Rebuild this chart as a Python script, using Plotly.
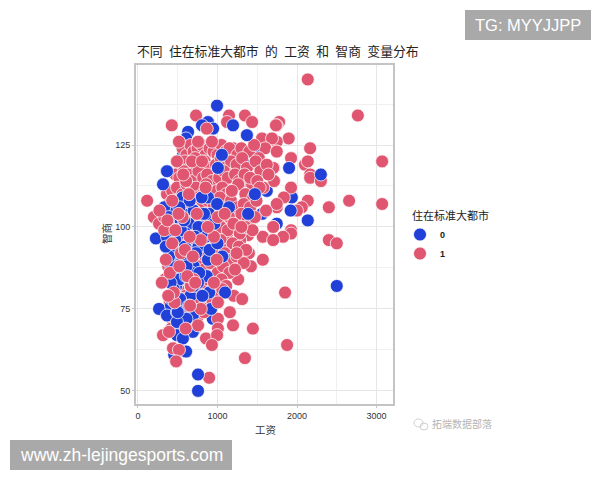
import plotly.graph_objects as go

# 工资 / 智商 values
wage_0_under = [1935,1620,1560,1745,1120,1145,1385,1495,1360,1130,865,1005,805,630,605,565,365,580,640,455,1280,1230,1040,720,1010,1470,1290,960,700,580,760,1090,840,940,1190,610,820]
iq_0_under = [109,111,104,101,96,106,104,123.5,119,116,118,118,115,129,127,122,117,116,101,95,103,121,92,119,110,108,93,84,109,92,88,113,79,72,88,111,123]

wage_1 = [2135,2765,3070,3070,2655,2400,2165,1925,1895,2100,2135,2165,2165,2300,1925,2135,2060,2000,1835,1745,1700,1925,1925,1825,2400,2500,1775,1745,1685,1745,1745,1710,1710,1850,1875,
          730,425,115,200,265,325,1145,1120,1345,1435,1735,865,515,755,930,1030,1195,1560,1685,1600,1745,490,680,805,1195,1495,1700,1710,605,365,505,715,930,1105,1320,1435,1575,740,1005,1195,1420,1700,1570,1385,1285,1120,965,1745,
          790,955,1285,1395,1570,1700,1570,1420,1220,1070,300,665,955,1260,1205,1310,1005,790,1155,1005,1195,755,1005,1445,855,995,930,315,390,440,515,480,1345,895,440,655,
          560,610,660,700,750,800,850,900,950,1000,1050,1100,1150,1250,1300,1400,1460,1520,
          540,590,650,720,770,840,890,980,1040,1090,1170,1240,1310,1370,1480,1540,1620,
          470,520,580,630,690,760,820,870,930,1020,1080,1130,1220,1270,1340,1410,1500,1640,
          430,490,560,610,680,730,810,860,920,990,1060,1110,1180,1260,1350,1450,1530,
          390,450,540,600,670,740,800,880,950,1030,1100,1170,1250,1330,1410,1490,1610,
          330,420,500,570,640,710,780,850,920,1010,1070,1150,1240,1300,1380,1470,
          380,460,530,600,680,750,830,900,980,1040,1130,1200,1280,1350,1440,
          350,430,510,590,660,720,810,880,960,1040,1120,1190,1270,1360,
          400,480,560,620,700,770,840,930,1000,1090,1160,1240,1330,
          380,450,530,610,680,760,830,910,1000,1070,1150,1220,
          340,420,490,590,650,720,800,880,960,1050,1110,
          430,510,600,680,740,820,900,980,1060,
          400,470,560,640,700,790,860,940,
          360,440,520,620,680,760,830,
          420,500,580,660,720]
iq_1 = [145,134,120,107,108,106,124,121,127,119,120,116,115,114,112,108,106,105,109,106,100,99,98,97,96,95,132,131,127,126,123,118,114,80,64,
        134,131,108,103,101,104,134,132,134,132,131,130,126,126,126,125,124,127,127,124,123,120,120,120,117,119,118,114,114,110,110,113,113,112,114,113,112,104,103,102,102,100,97,97.5,98.5,98,97.5,107,
        96,97,96,92,97,96,90,88,92,91,83,82,83,84,79,78,77,75,74,72,70,70,69,69,66,67,64,67,68,63,62.5,59,60,54,71,76,
        124,122,125,123,124,125,122,124,123,122,125,123,124,122,124,123,125,121,
        119,120,118,121,119,120,118,119,121,118,120,119,121,118,120,117,119,
        116,115,117,116,114,117,115,116,114,115,117,115,116,114,116,115,114,116,
        111,112,110,113,111,112,110,113,110,111,112,110,111,113,110,109,112,
        107,108,106,108,107,109,106,108,107,109,106,108,106,107,106,108,105,
        103,104,102,104,103,105,102,104,103,102,105,103,101,104,102,103,
        100,99,101,100,98,100,99,101,98,100,99,101,98,100,99,
        96,95,97,96,94,96,95,97,94,96,93,95,94,93,
        92,91,93,92,90,92,91,93,90,92,90,91,89,
        88,87,89,88,86,88,87,89,86,88,86,87,
        84,83,85,84,82,85,83,84,82,84,82,
        80,81,79,81,80,78,80,79,81,
        77,76,78,76,77,78,75,77,
        73,74,72,74,72,73,74,
        69,70,68,71,69]

wage_0_top = [994,880,805,945,1195,1370,1055,1005,365,315,1470,880,995,500,380,565,895,640,480,790,225,365,455,
              630,490,880,640,515,415,865,755,480,895,1095,540,265,415,365,490,690,920,540,690,490,565,605,455,755,755,
              2500,2300,1900,1920,2135,1385,1145,
              560,480,600,700,760,850,620,440,520,380,700,830,660,540,600,470,420,760,900,330,530,700,640,590,450,800,960,610,560,720,680,390,490,420,1000,1060,
              350,410,580,650,770,520,440,610,730,500,390,810]
iq_0_top = [137,132,131,130,131,128,122,118,117,113,110,109,107,107,106,104,104,101,100,100,96.5,97,95,
            93,89,90,87,86,86,85,83,82,80,80,77,75,76,73,74,73,75,70,68,67,66,62,61,55,50,
            82,116,118,105,102,104,106,
            109,103,98,105,94,97,91,92,84,101,88,104,79,99,85,96,88,100,93,106,78,82,76,94,81,109,101,72,90,97,86,91,71,78,95,91,
            94,83,102,108,86,106,99,88,92,74,103,79]

wage_1_top = [300,315,390,665,955,790,755,605,515,755,930,680,805,490,865,740,1005,790,955,440,515,480,655,1005,640,570,850,700,430,540,990,460,600,880,1090,1180,1240,1300,
              270,330,350,400,370,430,520,470,590,560,650,450,510,620,690,380,720]
iq_1_top = [83,67,68,82,83,75,70,114,126,126,126,120,120,120,130,104,103,96,97,63,62.5,59,76,77,110,116,112,84,108,92,90,77,69,100,104,111,92,100,
            105,99,90,86,102,95,88,99,93,103,97,80,104,85,91,79,83]

tick_x = [0,1000,2000,3000]
tick_y = [50,75,100,125]
title_text = "不同\u2002住在标准大都市\u2002的\u2002工资\u2002和\u2002智商\u2002变量分布"
blue, red = "#2040D8", "#E05670"
W, H = 600, 480
CJK = "Noto Sans CJK SC"
def px(x): return x / W
def py(y): return 1 - y / H
edge = dict(color="rgba(255,255,255,0.75)", width=1)

fig = go.Figure()
fig.add_trace(go.Scatter(x=wage_0_under, y=iq_0_under, mode="markers", showlegend=False, legendgroup="0",
                         marker=dict(color=blue, size=13, line=edge), hoverinfo="skip"))
fig.add_trace(go.Scatter(x=wage_1, y=iq_1, mode="markers", name="1", legendgroup="1",
                         marker=dict(color=red, size=13, line=edge)))
fig.add_trace(go.Scatter(x=wage_0_top, y=iq_0_top, mode="markers", name="0", legendgroup="0",
                         marker=dict(color=blue, size=13, line=edge)))
fig.add_trace(go.Scatter(x=wage_1_top, y=iq_1_top, mode="markers", showlegend=False, legendgroup="1",
                         marker=dict(color=red, size=13, line=edge), hoverinfo="skip"))

axis = dict(showgrid=True, gridcolor="#E6E6E6", gridwidth=1, zeroline=False,
            showline=True, linecolor="#C4C4C4", linewidth=2, mirror=True,
            ticks="outside", ticklen=2, tickcolor="#C4C4C4",
            tickfont=dict(family="Liberation Sans", size=9, color="#333333"))
minor = dict(showgrid=True, gridcolor="#F0F0F0", gridwidth=1, ticks="")
fig.update_layout(
    width=W, height=H, autosize=False, margin=dict(l=0, r=0, t=0, b=0),
    paper_bgcolor="white", plot_bgcolor="white", showlegend=True,
    xaxis=dict(axis, domain=[px(136), px(393)], range=[-25, 3207], tickvals=tick_x,
               minor=dict(minor, dtick=500, tick0=0)),
    yaxis=dict(axis, domain=[py(404), py(65)], range=[46, 149.4], tickvals=tick_y,
               minor=dict(minor, dtick=12.5, tick0=50)),
    legend=dict(x=px(400), y=py(220), xanchor="left", yanchor="top", traceorder="reversed",
                font=dict(family="Liberation Sans", size=9, color="#222222", weight="bold"), itemsizing="trace",
                itemwidth=30, bgcolor="rgba(0,0,0,0)"),
    shapes=[
        dict(type="rect", xref="paper", yref="paper", x0=px(465), x1=px(591), y0=py(40), y1=py(10),
             fillcolor="#A9A9A9", line_width=0),
        dict(type="rect", xref="paper", yref="paper", x0=px(10), x1=px(232), y0=py(470), y1=py(440),
             fillcolor="#A9A9A9", line_width=0),
        dict(type="circle", xref="paper", yref="paper", x0=px(414), x1=px(423), y0=py(427), y1=py(419),
             line=dict(color="#CFCFCF", width=1)),
        dict(type="circle", xref="paper", yref="paper", x0=px(420), x1=px(428), y0=py(430), y1=py(423),
             line=dict(color="#CFCFCF", width=1)),
    ],
    annotations=[
        dict(text=title_text, xref="paper", yref="paper", x=px(135), y=py(51), xanchor="left", yanchor="middle",
             showarrow=False, font=dict(family=CJK, size=12.8, color="#222222")),
        dict(text="住在标准大都市", xref="paper", yref="paper", x=px(410), y=py(215), xanchor="left", yanchor="middle",
             showarrow=False, font=dict(family=CJK, size=11, color="#222222")),
        dict(text="工资", xref="paper", yref="paper", x=px(265), y=py(429), xanchor="center", yanchor="middle",
             showarrow=False, font=dict(family=CJK, size=10.5, color="#333333")),
        dict(text="智商", xref="paper", yref="paper", x=px(106), y=py(234), xanchor="center", yanchor="middle",
             textangle=-90, showarrow=False, font=dict(family=CJK, size=10.5, color="#333333")),
        dict(text="TG: MYYJJPP", xref="paper", yref="paper", x=px(528), y=py(25), xanchor="center", yanchor="middle",
             showarrow=False, font=dict(family="Liberation Sans", size=16.5, color="white")),
        dict(text="www.zh-lejingesports.com", xref="paper", yref="paper", x=px(121), y=py(455), xanchor="center",
             yanchor="middle", showarrow=False, font=dict(family="Liberation Sans", size=17.5, color="white")),
        dict(text="拓端数据部落", xref="paper", yref="paper", x=px(462), y=py(423), xanchor="center", yanchor="middle",
             showarrow=False, font=dict(family=CJK, size=10, color="#B5B5B5")),
    ],
)
fig.write_html("out.html", config=dict(displayModeBar=False), post_script="document.body.style.margin='0';")
